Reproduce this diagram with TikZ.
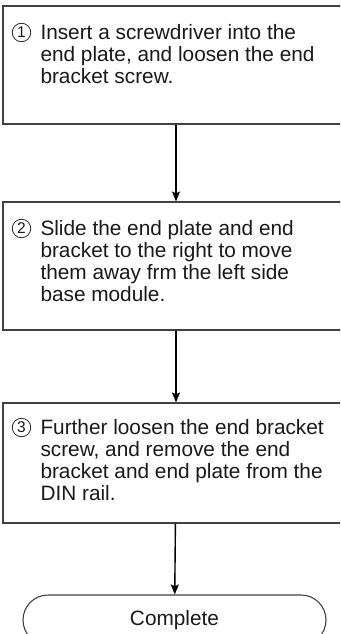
\documentclass[tikz,border=0pt]{standalone}
\usepackage{fontspec}
\setmainfont{Liberation Sans}
\usetikzlibrary{arrows.meta}

\begin{document}
\begin{tikzpicture}[x=1pt,y=-1pt,line width=1pt,>={Stealth[length=10pt,width=8pt,inset=2pt]},
  stepbox/.style={draw=black!75,line width=1.1pt,minimum width=346pt,inner sep=0pt},
  steptext/.style={anchor=north west,inner sep=0pt,align=left,text=black!90,font=\fontsize{20.8}{22}\selectfont},
  stepnum/.style={circle,draw=black!85,line width=0.8pt,minimum size=18.5pt,inner sep=0pt,text=black!90,font=\fontsize{15.5}{15.5}\selectfont},
  flow/.style={->,line width=1.4pt}]
  \clip (0,0) rectangle (340,634);
  % cajas de los pasos
  \node[stepbox,minimum height=118pt] (s1) at (176,65) {};
  \node[stepbox,minimum height=128pt] (s2) at (176,266) {};
  \node[stepbox,minimum height=120pt] (s3) at (176,463) {};
  \node[draw=black!75,line width=1.1pt,rounded corners=25pt,minimum width=303pt,minimum height=50pt,inner sep=0pt,
    font=\fontsize{20.8}{22}\selectfont,text=black!90] (done) at (174.5,620) {Complete};
  % textos
  \node[steptext] (t1) at (40,24) {Insert a screwdriver into the\\
    end plate, and loosen the end\\
    bracket screw.};
  \node[steptext] (t2) at (40,220) {Slide the end plate and end\\
    bracket to the right to move\\
    them away frm the left side\\
    base module.};
  \node[steptext] (t3) at (40,419) {Further loosen the end bracket\\
    screw, and remove the end\\
    bracket and end plate from the\\
    DIN rail.};
  % numeros
  \node[stepnum] (n1) at ([shift={(-18.5,8.5)}]t1.north west) {1};
  \node[stepnum] (n2) at ([shift={(-18.5,8.5)}]t2.north west) {2};
  \node[stepnum] (n3) at ([shift={(-18.5,8.5)}]t3.north west) {3};
  % flechas
  \draw[flow] (s1) -- (s2);
  \draw[flow] (s2) -- (s3);
  \draw[flow] (s3) -- (done);
\end{tikzpicture}
\end{document}
